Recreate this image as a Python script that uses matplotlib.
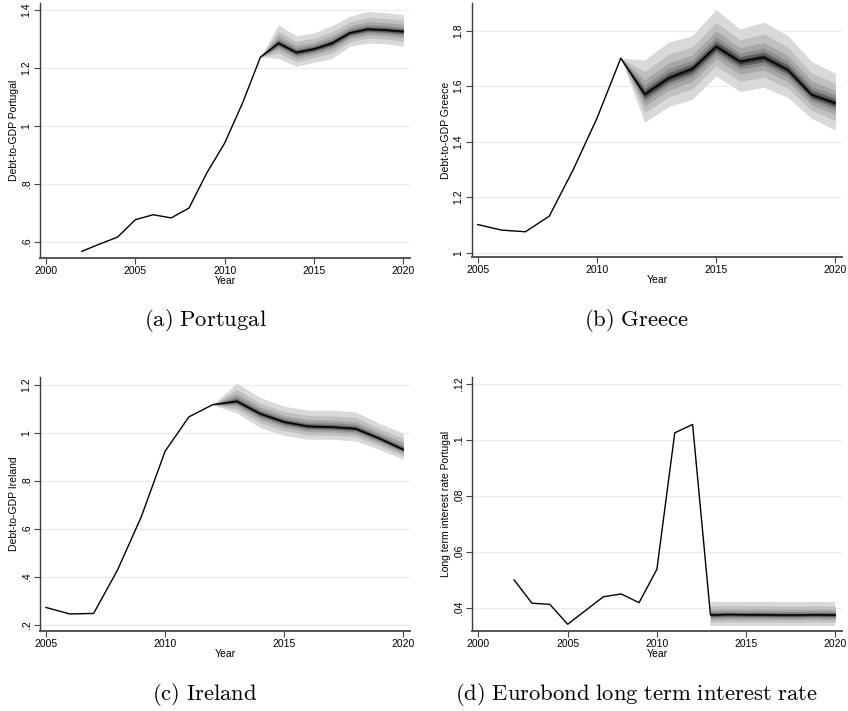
import matplotlib
matplotlib.use('Agg')
import matplotlib.pyplot as plt
import numpy as np

plt.rcParams['font.family'] = ['Liberation Sans', 'DejaVu Sans']
plt.rcParams['mathtext.fontset'] = 'cm'

# ---------------------------------------------------------------------------
# data
# ---------------------------------------------------------------------------
pt_years = [2002, 2003, 2004, 2005, 2006, 2007, 2008, 2009, 2010, 2011, 2012]
pt_debt = [0.568, 0.593, 0.617, 0.677, 0.694, 0.683, 0.717, 0.838, 0.941, 1.079, 1.237]
pt_fc_years = [2012, 2013, 2014, 2015, 2016, 2017, 2018, 2019, 2020]
pt_fc_mid = [1.237, 1.285, 1.253, 1.265, 1.285, 1.320, 1.333, 1.330, 1.325]
pt_fc_hi = [1.237, 1.348, 1.310, 1.320, 1.345, 1.377, 1.394, 1.390, 1.383]
pt_fc_lo = [1.237, 1.233, 1.205, 1.219, 1.232, 1.274, 1.285, 1.283, 1.274]

gr_years = [2005, 2006, 2007, 2008, 2009, 2010, 2011]
gr_debt = [1.101, 1.081, 1.075, 1.131, 1.298, 1.484, 1.701]
gr_fc_years = [2011, 2012, 2013, 2014, 2015, 2016, 2017, 2018, 2019, 2020]
gr_fc_mid = [1.701, 1.571, 1.629, 1.663, 1.743, 1.689, 1.704, 1.659, 1.569, 1.539]
gr_fc_hi = [1.701, 1.695, 1.759, 1.782, 1.876, 1.806, 1.831, 1.783, 1.689, 1.647]
gr_fc_lo = [1.701, 1.470, 1.526, 1.553, 1.637, 1.581, 1.596, 1.560, 1.484, 1.442]

ie_years = [2005, 2006, 2007, 2008, 2009, 2010, 2011, 2012]
ie_debt = [0.273, 0.246, 0.248, 0.428, 0.650, 0.923, 1.066, 1.117]
ie_fc_years = [2012, 2013, 2014, 2015, 2016, 2017, 2018, 2019, 2020]
ie_fc_mid = [1.117, 1.131, 1.079, 1.045, 1.027, 1.024, 1.017, 0.976, 0.930]
ie_fc_hi = [1.117, 1.207, 1.146, 1.110, 1.094, 1.094, 1.087, 1.038, 0.999]
ie_fc_lo = [1.117, 1.082, 1.021, 0.989, 0.973, 0.973, 0.966, 0.930, 0.890]

ir_years = [2002, 2003, 2004, 2005, 2006, 2007, 2008, 2009, 2010, 2011, 2012]
ir_rate = [0.0501, 0.0418, 0.0414, 0.0343, 0.0392, 0.0441, 0.0451, 0.0420, 0.0539, 0.1025, 0.1055]
ir_fc_years = [2013, 2014, 2015, 2016, 2017, 2018, 2019, 2020]
ir_fc_mid = [0.0376, 0.0378, 0.0377, 0.0377, 0.0376, 0.0376, 0.0377, 0.0376]
ir_fc_hi = [0.0424, 0.0424, 0.0424, 0.0424, 0.0424, 0.0424, 0.0424, 0.0424]
ir_fc_lo = [0.0338, 0.0338, 0.0338, 0.0338, 0.0338, 0.0338, 0.0338, 0.0338]

# fan shading: share of the outer half-width per band, light -> dark
BAND_FRACS = [1.0, 0.66, 0.42, 0.26, 0.15, 0.07]
BAND_COLS = ['#d9d9d9', '#c0c0c0', '#a6a6a6', '#8c8c8c', '#606060', '#333333']

GRID_COL = '#e6eef0'
SPINE_COL = '#3a3a3a'

panels = [
    dict(rect=[40, 3, 410, 258], years=pt_years, vals=pt_debt, fy=pt_fc_years,
         mid=pt_fc_mid, hi=pt_fc_hi, lo=pt_fc_lo,
         ylabel='Debt-to-GDP Portugal', xlim=(1999.66, 2020.37), ylim=(0.545, 1.423),
         xticks=[2000, 2005, 2010, 2015, 2020],
         yticks=[0.6, 0.8, 1.0, 1.2, 1.4], yticklabels=['.6', '.8', '1', '1.2', '1.4'],
         caption='(a)\\ Portugal', cap_xy=(205, 321)),
    dict(rect=[472, 3, 842, 257], years=gr_years, vals=gr_debt, fy=gr_fc_years,
         mid=gr_fc_mid, hi=gr_fc_hi, lo=gr_fc_lo,
         ylabel='Debt-to-GDP Greece', xlim=(2004.76, 2020.28), ylim=(0.984, 1.9),
         xticks=[2005, 2010, 2015, 2020],
         yticks=[1.0, 1.2, 1.4, 1.6, 1.8], yticklabels=['1', '1.2', '1.4', '1.6', '1.8'],
         caption='(b)\\ Greece', cap_xy=(636, 321)),
    dict(rect=[40, 377, 410, 631], years=ie_years, vals=ie_debt, fy=ie_fc_years,
         mid=ie_fc_mid, hi=ie_fc_hi, lo=ie_fc_lo,
         ylabel='Debt-to-GDP Ireland', xlim=(2004.75, 2020.28), ylim=(0.175, 1.232),
         xticks=[2005, 2010, 2015, 2020],
         yticks=[0.2, 0.4, 0.6, 0.8, 1.0, 1.2],
         yticklabels=['.2', '.4', '.6', '.8', '1', '1.2'],
         caption='(c)\\ Ireland', cap_xy=(205, 694)),
    dict(rect=[472, 377, 842, 631], years=ir_years, vals=ir_rate, fy=ir_fc_years,
         mid=ir_fc_mid, hi=ir_fc_hi, lo=ir_fc_lo,
         ylabel='Long term interest rate Portugal', xlim=(1999.64, 2020.37),
         ylim=(0.0319, 0.1224),
         xticks=[2000, 2005, 2010, 2015, 2020],
         yticks=[0.04, 0.06, 0.08, 0.10, 0.12],
         yticklabels=['.04', '.06', '.08', '.1', '.12'],
         caption='(d)\\ Eurobond\\ long\\ term\\ interest\\ rate', cap_xy=(637, 694)),
]

W, H = 848, 711
fig = plt.figure(figsize=(W / 100, H / 100), dpi=100)

for p in panels:
    x0, y0, x1, y1 = p['rect']
    ax = fig.add_axes([x0 / W, 1 - y1 / H, (x1 - x0) / W, (y1 - y0) / H])

    fy = np.asarray(p['fy'])
    mid = np.asarray(p['mid'])
    hi = np.asarray(p['hi'])
    lo = np.asarray(p['lo'])
    for frac, col in zip(BAND_FRACS, BAND_COLS):
        ax.fill_between(fy, mid - frac * (mid - lo), mid + frac * (hi - mid),
                        color=col, lw=0, zorder=2)

    ax.plot(list(p['years']) + list(p['fy']), list(p['vals']) + list(p['mid']),
            c='k', lw=1.0, zorder=4)

    ax.set_xlim(*p['xlim'])
    ax.set_ylim(*p['ylim'])
    ax.set_xticks(p['xticks'])
    ax.set_yticks(p['yticks'])
    ax.set_yticklabels(p['yticklabels'], rotation=90, va='center')
    for yv in p['yticks']:
        ax.axhline(yv, color=GRID_COL, lw=0.9, zorder=1)

    for s in ['top', 'right']:
        ax.spines[s].set_visible(False)
    ax.spines['left'].set_color(SPINE_COL)
    ax.spines['bottom'].set_color('#555555')
    ax.spines['left'].set_linewidth(1.0)
    ax.spines['bottom'].set_linewidth(1.4)
    ax.tick_params(direction='out', length=4, width=0.8, color='#444444',
                   labelsize=7.5, pad=2)
    ax.set_xlabel('Year', fontsize=7.5, labelpad=0)
    ax.set_ylabel(p['ylabel'], fontsize=7.5, labelpad=2)

    fig.text(p['cap_xy'][0] / W, 1 - p['cap_xy'][1] / H,
             '$\\mathrm{' + p['caption'] + '}$', ha='center', va='center',
             fontsize=16.3)

fig.savefig('out.png', dpi=100)
